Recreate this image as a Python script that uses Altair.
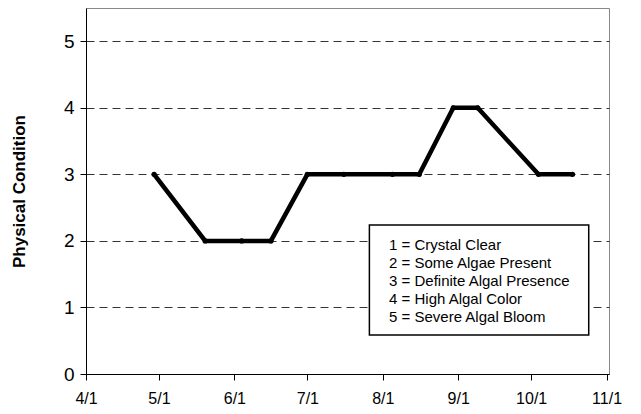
import altair as alt
import pandas as pd

# --- data ---
dates = ["2005-04-29", "2005-05-20", "2005-06-04", "2005-06-16", "2005-07-01",
         "2005-07-16", "2005-08-05", "2005-08-16", "2005-08-30", "2005-09-09",
         "2005-10-04", "2005-10-18"]
condition = [3, 2, 2, 2, 3, 3, 3, 3, 4, 4, 3, 3]

legend_lines = ["1 = Crystal Clear", "2 = Some Algae Present",
                "3 = Definite Algal Presence", "4 = High Algal Color",
                "5 = Severe Algal Bloom"]

tick_months = [4, 5, 6, 7, 8, 9, 10, 11]
y_ticks = [0, 1, 2, 3, 4, 5]

FONT = "Liberation Sans"

df = pd.DataFrame({"date": [d + "T00:00:00" for d in dates], "value": condition})

x_scale = alt.Scale(domain=[alt.DateTime(year=2005, month=4, date=1),
                            alt.DateTime(year=2005, month=11, date=2)])
y_scale = alt.Scale(domain=[0, 5.5], nice=False)

x_axis = alt.Axis(values=[alt.DateTime(year=2005, month=m, date=1) for m in tick_months],
                  format="%-m/%-d", labelFontSize=16, labelFont=FONT, labelColor="black",
                  tickColor="black", tickSize=6, domainColor="black", grid=False,
                  labelPadding=10, title=None, labelFlush=False)
y_axis = alt.Axis(values=y_ticks, format="d", labelFontSize=19, labelFont=FONT,
                  labelColor="black", labelFlush=False,
                  tickColor="black", tickSize=6, domainColor="black",
                  grid=True, gridDash=[8, 5], gridColor="#333", gridWidth=1,
                  labelPadding=6, title="Physical Condition", titleFont=FONT,
                  titleFontSize=17, titleFontWeight="bold", titleColor="black",
                  titlePadding=35)

line = alt.Chart(df).mark_line(color="black", strokeWidth=4.5).encode(
    x=alt.X("date:T", scale=x_scale, axis=x_axis),
    y=alt.Y("value:Q", scale=y_scale, axis=y_axis),
)
pts = alt.Chart(df).mark_circle(color="black", size=28, opacity=1).encode(
    x="date:T", y="value:Q"
)

# legend box (annotation, placed in data space)
box_df = pd.DataFrame({"x1": ["2005-07-26T12:00:00"], "x2": ["2005-10-24T16:00:00"],
                       "y1": [0.586], "y2": [2.24]})
box = alt.Chart(box_df).mark_rect(fill="white", stroke="black", strokeWidth=1.5).encode(
    x="x1:T", x2="x2:T", y="y1:Q", y2="y2:Q"
)
txt_df = pd.DataFrame({"label": legend_lines,
                       "x": ["2005-08-03T14:00:00"] * len(legend_lines),
                       "y": [1.94 - 0.27 * i for i in range(len(legend_lines))]})
txt = alt.Chart(txt_df).mark_text(align="left", baseline="middle", fontSize=15,
                                  font=FONT, color="black").encode(
    x="x:T", y="y:Q", text="label:N"
)

chart = alt.layer(line, pts, box, txt).properties(
    width=523, height=366,
    autosize=alt.AutoSizeParams(type="none"),
    padding={"left": 78, "top": 0, "right": 16, "bottom": 32},
    background="white",
).configure_view(stroke="#888", strokeWidth=1)

chart.save("out.html", embed_options={"renderer": "svg", "actions": False})
